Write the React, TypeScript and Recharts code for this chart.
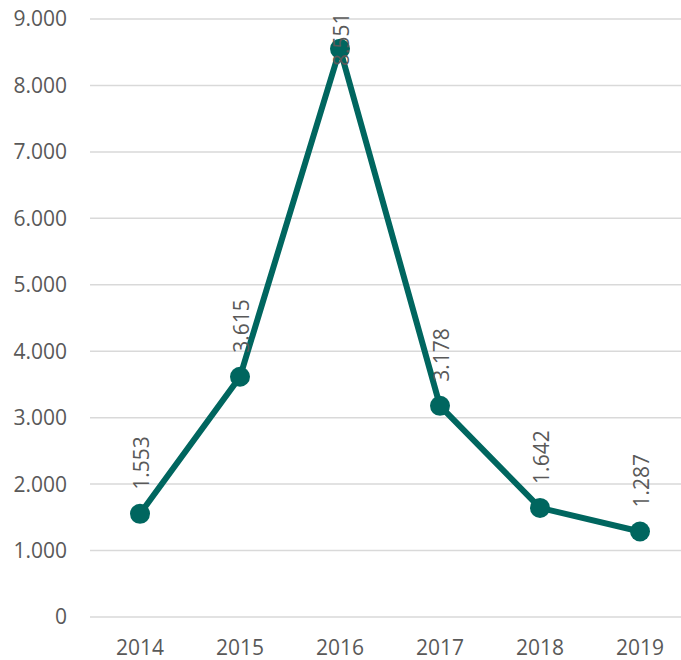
import React from "react";
import { LineChart, Line, XAxis, YAxis, CartesianGrid, LabelList } from "recharts";

const years = ["2014", "2015", "2016", "2017", "2018", "2019"];
const values = [1553, 3615, 8551, 3178, 1642, 1287];
const yTicks = [0, 1000, 2000, 3000, 4000, 5000, 6000, 7000, 8000, 9000];

const LINE_COLOR = "#00665f";
const INK = "#595959";
const FONT = "'Open Sans', sans-serif";
const FONT_SIZE = 21;

const data = years.map((year, i) => ({ year, value: values[i] }));

// dots use "." as thousands separator
const fmt = (v: number) =>
  v === 0 ? "0" : String(v).replace(/\B(?=(\d{3})+(?!\d))/g, ".");

// vertical value label above the point; pushed down when it would leave the top
function RotatedLabel(props: any) {
  const { x, y, value } = props;
  const textLen = 53;
  let start = y - 24;
  if (start - textLen < 13) start = 13 + textLen;
  return (
    <text
      x={x}
      y={start}
      dy="0.42em"
      transform={`rotate(-90 ${x} ${start})`}
      textAnchor="start"
      fill={INK}
      fontSize={FONT_SIZE}
      fontFamily={FONT}
    >
      {fmt(value)}
    </text>
  );
}

export default function App() {
  return (
    <div
      style={{
        position: "fixed",
        left: 0,
        top: 0,
        width: 681,
        height: 660,
        overflow: "hidden",
        background: "#fff",
      }}
    >
      <LineChart
        width={700}
        height={660}
        data={data}
        margin={{ top: 19, right: 10, left: 0, bottom: 0 }}
      >
        <CartesianGrid vertical={false} stroke="#d9d9d9" strokeWidth={1.5} />
        <XAxis
          dataKey="year"
          axisLine={false}
          tickLine={false}
          tickSize={0}
          tickMargin={23}
          height={43}
          padding={{ left: 50, right: 50 }}
          tick={{ fill: INK, fontSize: FONT_SIZE, fontFamily: FONT }}
        />
        <YAxis
          domain={[0, 9000]}
          ticks={yTicks}
          tickFormatter={fmt}
          axisLine={false}
          tickLine={false}
          tickSize={0}
          tickMargin={23}
          width={90}
          interval={0}
          tick={{ fill: INK, fontSize: FONT_SIZE, fontFamily: FONT }}
        />
        {/* labels sit under the line, so they get their own invisible series first */}
        <Line
          dataKey="value"
          stroke="none"
          dot={false}
          activeDot={false}
          isAnimationActive={false}
        >
          <LabelList dataKey="value" content={<RotatedLabel />} />
        </Line>
        <Line
          type="linear"
          dataKey="value"
          stroke={LINE_COLOR}
          strokeWidth={6}
          dot={{ r: 10, fill: LINE_COLOR, stroke: "none" }}
          activeDot={false}
          isAnimationActive={false}
        />
      </LineChart>
    </div>
  );
}
